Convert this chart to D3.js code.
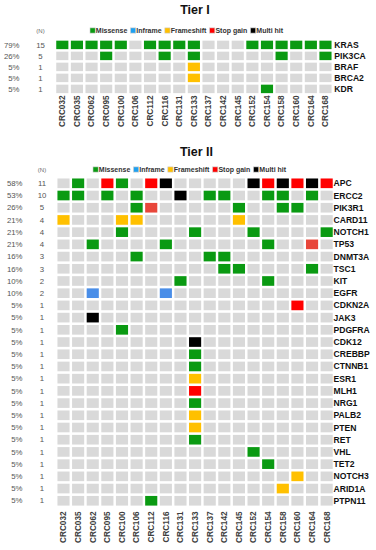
<!DOCTYPE html>
<html>
<head>
<meta charset="utf-8">
<script src="https://cdn.jsdelivr.net/npm/d3@7"></script>
<style>
  html, body { margin: 0; padding: 0; background: #fff; }
  svg { display: block; font-family: "Liberation Sans", Arial, sans-serif; }
</style>
</head>
<body>
<div id="chart"></div>
<script>
// Oncoprint — Tier I / Tier II

const samples = ["CRC032","CRC035","CRC062","CRC095","CRC100","CRC106","CRC112","CRC116","CRC131",
                 "CRC133","CRC137","CRC142","CRC145","CRC152","CRC154","CRC158","CRC160","CRC164","CRC168"];

// mutation codes: M missense, I inframe, F frameshift, S stop gain, s stop gain (lighter shade), X multi hit, . none
const tier1Genes = ["KRAS","PIK3CA","BRAF","BRCA2","KDR"];
const tier1Pct   = [79, 26, 5, 5, 5];
const tier1N     = [15, 5, 1, 1, 1];
const tier1Calls = [
  "MMMMM.MMMM...MMMMMM",
  "...M...M.M.....M..M",
  ".........F.........",
  ".........F.........",
  "..............M...."
];

const tier2Genes = ["APC","ERCC2","PIK3R1","CARD11","NOTCH1","TP53","DNMT3A","TSC1","KIT","EGFR",
                    "CDKN2A","JAK3","PDGFRA","CDK12","CREBBP","CTNNB1","ESR1","MLH1","NRG1","PALB2",
                    "PTEN","RET","VHL","TET2","NOTCH3","ARID1A","PTPN11"];
const tier2Pct   = [58, 53, 26, 21, 21, 21, 16, 16, 10, 10, 5, 5, 5, 5, 5, 5, 5, 5, 5, 5, 5, 5, 5, 5, 5, 5, 5];
const tier2N     = [11, 10, 5, 4, 4, 4, 3, 3, 2, 2, 1, 1, 1, 1, 1, 1, 1, 1, 1, 1, 1, 1, 1, 1, 1, 1, 1];
const tier2Calls = [
  ".M.SM.SX.....XSXSXS",
  "MM.M.M..X.MM..MM.M.",
  ".....Ms.....M..MM..",
  "F...FF......F......",
  "....M....M...M....M",
  "..M....M......M..s.",
  ".....M....MM.......",
  "...........MM....M.",
  "........M.....M....",
  "..I....I...........",
  "................S..",
  "..X................",
  "....M..............",
  ".........X.........",
  ".........M.........",
  ".........M.........",
  ".........F.........",
  ".........S.........",
  ".........M.........",
  ".........F.........",
  ".........F.........",
  ".........M.........",
  ".............M.....",
  "..............M....",
  "................F..",
  "...............F...",
  "......M............"
];

const legendLabels = ["Missense","Inframe","Frameshift","Stop gain","Multi hit"];
const legendCodes  = ["M","I","F","S","X"];

const couleurs = {
  ".": "#d9d9d9", M: "#0a9a12", I: "#4a8ee8", F: "#ffc000",
  S: "#ff0000", s: "#e8463a", X: "#000000"
};
const couleursLegende = { M: "#0a9a12", I: "#1ea0f0", F: "#ffc000", S: "#ff0000", X: "#000000" };

const largeur = 376, hauteur = 550;

const svg = d3.select("#chart").append("svg")
    .attr("width", largeur).attr("height", hauteur);

const pas = 14.62;

function dessinerPanneau(p) {
  const g = svg.append("g");

  const x = d3.scaleBand().domain(samples)
      .range([p.x0, p.x0 + samples.length * pas])
      .paddingInner(0.17).paddingOuter(0.085);

  const y = d3.scaleBand().domain(p.genes)
      .range([p.y0, p.y0 + p.genes.length * p.pasY])
      .paddingInner(p.padY).paddingOuter(p.padY / 2);

  // titre
  g.append("text")
      .attr("x", p.titreX).attr("y", p.titreY)
      .attr("text-anchor", "middle")
      .style("font-size", "12.5px").style("font-weight", "bold").style("fill", "#111")
      .text(p.titre);

  // (N)
  g.append("text")
      .attr("x", p.nX).attr("y", p.legY).attr("dy", "0.35em")
      .attr("text-anchor", "middle")
      .style("font-size", "6px").style("fill", "#666")
      .text("(N)");

  // légende
  const leg = g.append("g").attr("transform", `translate(${p.legX},${p.legY})`);
  let cx = 0;
  legendCodes.forEach((c, i) => {
    leg.append("rect")
        .attr("x", cx).attr("y", -2.6).attr("width", 5.2).attr("height", 5.2)
        .attr("fill", couleursLegende[c]).attr("stroke", "#ccc").attr("stroke-width", 0.6);
    const t = leg.append("text")
        .attr("x", cx + 5.8).attr("dy", "0.35em")
        .style("font-size", "7px").style("font-weight", "bold").style("fill", "#333")
        .text(legendLabels[i]);
    cx += 5.8 + t.node().getComputedTextLength() + 3.2;
  });

  // cellules
  p.genes.forEach((gene, r) => {
    const ligne = p.calls[r].split("");
    g.selectAll(null).data(ligne.map((c, j) => ({ s: samples[j], c })))
      .join("rect")
        .attr("x", d => x(d.s)).attr("y", y(gene))
        .attr("width", x.bandwidth()).attr("height", y.bandwidth())
        .attr("fill", d => couleurs[d.c]);
  });

  const cy = gene => y(gene) + y.bandwidth() / 2;

  // pourcentages
  g.selectAll(null).data(p.genes).join("text")
      .attr("x", p.pctX).attr("y", cy).attr("dy", "0.35em")
      .attr("text-anchor", "end")
      .style("font-size", "7.8px").style("fill", "#555")
      .text((d, i) => p.pct[i] + "%");

  // N
  g.selectAll(null).data(p.genes).join("text")
      .attr("x", p.nX).attr("y", cy).attr("dy", "0.35em")
      .attr("text-anchor", "middle")
      .style("font-size", "7.8px").style("fill", "#555")
      .text((d, i) => p.n[i]);

  // gènes
  g.selectAll(null).data(p.genes).join("text")
      .attr("x", p.geneX).attr("y", cy).attr("dy", "0.35em")
      .style("font-size", "8.6px").style("font-weight", "bold").style("fill", "#111")
      .text(d => d);

  // échantillons (verticaux)
  g.selectAll(null).data(samples).join("text")
      .attr("transform", d => `translate(${x(d) + x.bandwidth() / 2},${p.labY}) rotate(-90)`)
      .attr("dy", "0.35em")
      .attr("text-anchor", "end")
      .style("font-size", "8.2px").style("font-weight", "bold").style("fill", "#404040")
      .text(d => d);
}

dessinerPanneau({
  titre: "Tier I", titreX: 195, titreY: 14,
  genes: tier1Genes, pct: tier1Pct, n: tier1N, calls: tier1Calls,
  x0: 55, y0: 39.4, pasY: 11, padY: 0.23,
  legX: 90, legY: 30.5, pctX: 19.5, nX: 40.5, geneX: 334.3, labY: 95.5
});

dessinerPanneau({
  titre: "Tier II", titreX: 196.5, titreY: 156,
  genes: tier2Genes, pct: tier2Pct, n: tier2N, calls: tier2Calls,
  x0: 56.2, y0: 177.2, pasY: 12.21, padY: 0.21,
  legX: 93, legY: 169.5, pctX: 22.5, nX: 42, geneX: 333.5, labY: 511.5
});
</script>
</body>
</html>
